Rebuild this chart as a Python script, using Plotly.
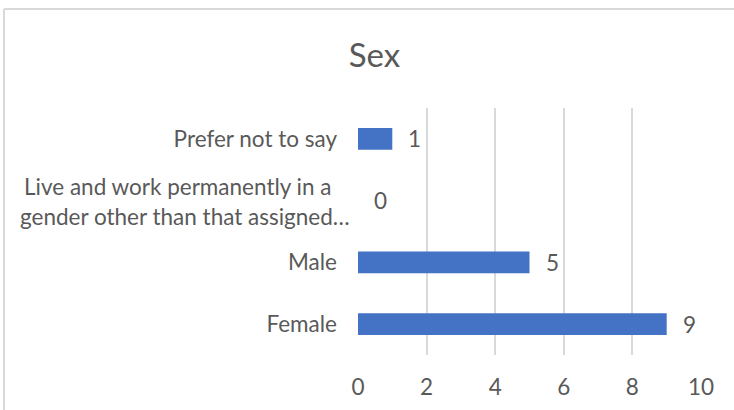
import plotly.graph_objects as go

# Survey responses by sex (bottom-to-top order on the category axis)
categories = [
    "Female",
    "Male",
    "Live and work permanently in a gender other than that assigned…",
    "Prefer not to say",
]
counts = [9, 5, 0, 1]
x_ticks = [0, 2, 4, 6, 8, 10]

# the long category is wrapped onto two lines, drawn separately
wrapped_label = ["Live and work permanently in a", "gender other than that assigned…"]

BAR = "#4472C4"
GRID = "#d9d9d9"
TEXT = "#595959"
FONT = "Lato"
FS = 22.5

W, H = 734, 410
L, R, T, B = 358, 33, 108, 55  # plot-area margins in px


def px_x(p):
    return (p - L) / (W - L - R)


def px_y(p):
    return (H - B - p) / (H - T - B)


fig = go.Figure(
    go.Bar(
        x=counts,
        y=categories,
        orientation="h",
        marker=dict(color=BAR, line=dict(width=0)),
        hoverinfo="skip",
    )
)

# value labels just past the end of each bar
for v, c in zip(counts, categories):
    fig.add_annotation(
        x=v, y=c, text=str(v), showarrow=False,
        xanchor="left", yanchor="middle", xshift=14,
        font=dict(family=FONT, size=FS, color=TEXT),
    )

# two-line category label
long_cat = categories[2]
for line, right_px, dy in zip(wrapped_label, [333, 352], [14, -16]):
    fig.add_annotation(
        xref="paper", x=px_x(right_px), y=long_cat, yref="y",
        text=line, showarrow=False, xanchor="right", yanchor="middle",
        yshift=dy, font=dict(family=FONT, size=FS, color=TEXT),
    )

# chart-area border (left and top edges)
fig.add_shape(type="line", xref="paper", yref="paper",
              x0=px_x(4), x1=px_x(4), y0=px_y(9), y1=px_y(412),
              line=dict(color=GRID, width=2))
fig.add_shape(type="line", xref="paper", yref="paper",
              x0=px_x(4), x1=px_x(736), y0=px_y(9), y1=px_y(9),
              line=dict(color=GRID, width=2))

fig.update_layout(
    width=W, height=H,
    margin=dict(l=L, r=R, t=T, b=B, pad=0, autoexpand=False),
    paper_bgcolor="white",
    plot_bgcolor="white",
    bargap=0.65,
    showlegend=False,
    font=dict(family=FONT, color=TEXT, size=FS),
    title=dict(
        text="Sex",
        x=374.5 / W, xanchor="center",
        y=1 - 55 / H, yanchor="middle",
        xref="container", yref="container",
        font=dict(family=FONT, size=33, color=TEXT),
    ),
    xaxis=dict(
        range=[0, 10],
        tickvals=x_ticks,
        ticktext=[str(t) for t in x_ticks],
        showgrid=True, gridcolor=GRID, gridwidth=1.5,
        zeroline=False, showline=False,
        ticks="",
        ticklabelstandoff=16,
        tickfont=dict(family=FONT, size=FS, color=TEXT),
        automargin=False,
        fixedrange=True,
    ),
    yaxis=dict(
        categoryorder="array", categoryarray=categories,
        tickvals=categories,
        ticktext=[c if c != long_cat else "" for c in categories],
        showgrid=False, zeroline=False,
        showline=False,
        ticks="",
        ticklabelstandoff=20,
        tickfont=dict(family=FONT, size=FS, color=TEXT),
        automargin=False,
        fixedrange=True,
    ),
)

fig.write_html("out.html")
